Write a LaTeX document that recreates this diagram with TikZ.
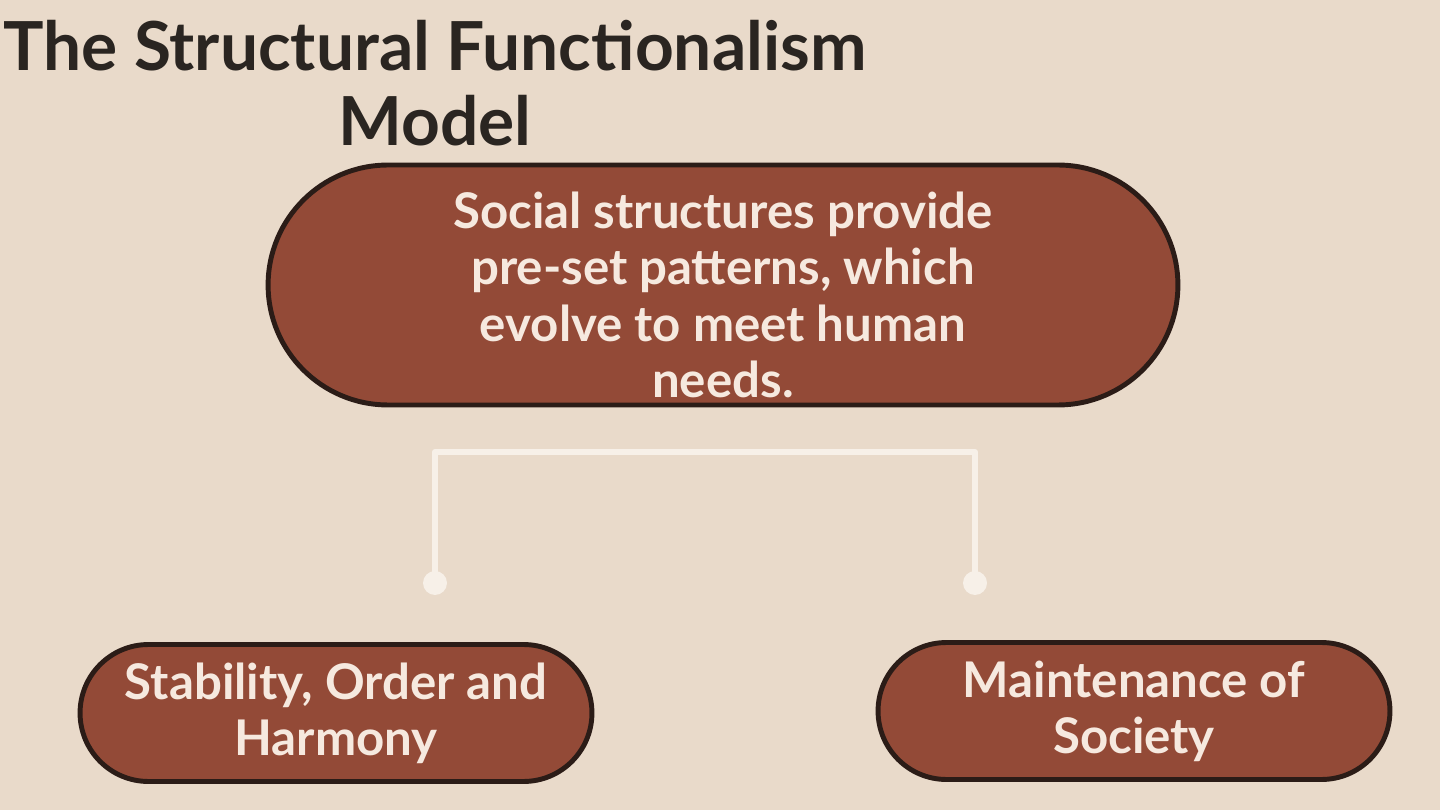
\documentclass[tikz,border=0pt]{standalone}
\usepackage{fontspec}
\setmainfont{Lato}
\usetikzlibrary{positioning, shapes.misc, calc}
\definecolor{sfbg}{HTML}{E9DACA}
\definecolor{sfbrick}{HTML}{934A37}
\definecolor{sfedge}{HTML}{2B1C17}
\definecolor{sfcream}{HTML}{F6E9DF}
\definecolor{sfink}{HTML}{2A2521}
\definecolor{sfline}{HTML}{F7F0E8}

\begin{document}
\begin{tikzpicture}[x=0.02cm, y=-0.02cm,
    pill/.style={rounded rectangle, draw=sfedge, line width=2.8pt, fill=sfbrick,
      text=sfcream, font=\bfseries\fontsize{28}{32}\selectfont, align=center, inner sep=0pt},
    link/.style={draw=sfline, line width=3.4pt},
    knob/.style={circle, fill=sfline, minimum size=0.48cm, inner sep=0pt}]
  \useasboundingbox[fill=sfbg] (0,0) rectangle (1440,810);
  \node[text=sfink, font=\bfseries\fontsize{38.5}{43}\selectfont, align=center]
    (title) at (435,83) {The Structural Functionalism\\Model};
  \node[pill, minimum width=18.2cm, minimum height=4.8cm, text height=128pt] (social) at (723,285)
    {Social structures provide\\pre-set patterns, which\\evolve to meet human\\needs.};
  \node[pill, minimum width=10.24cm, minimum height=2.74cm] (stability) at (336,713)
    {Stability, Order and\\Harmony};
  \node[pill, minimum width=10.24cm, minimum height=2.74cm] (society) at (1134,711)
    {Maintenance of\\Society};
  % branch under the top pill
  \coordinate (bar) at (705,452);
  \node[knob] (knobL) at (435,583) {};
  \node[knob] (knobR) at (975,583) {};
  \draw[link, line join=round] (knobL.center) -- (knobL |- bar) -- (knobR |- bar) -- (knobR.center);
\end{tikzpicture}
\end{document}
